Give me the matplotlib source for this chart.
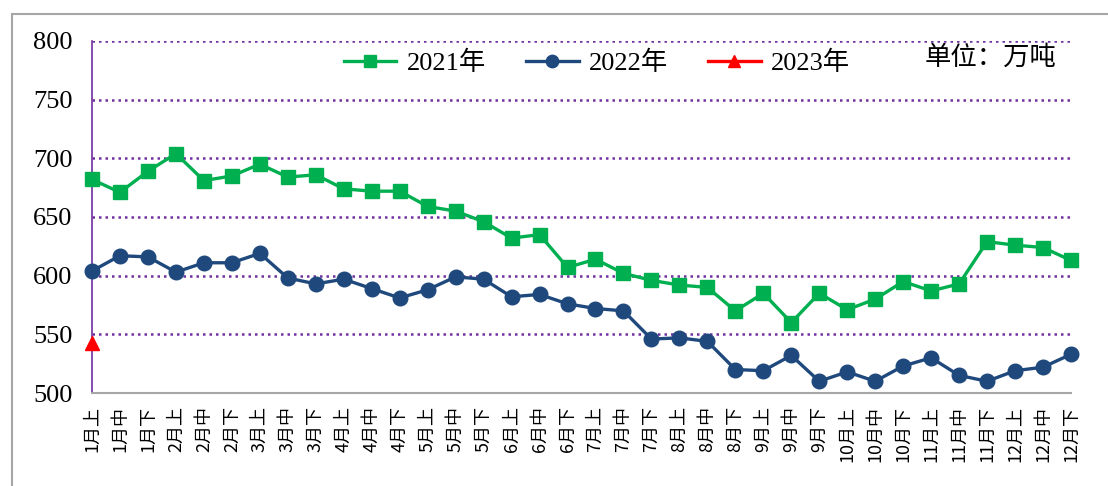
import matplotlib.pyplot as plt
from matplotlib.patches import Rectangle

# categories: 1月上 ... 12月下
parts = ["上", "中", "下"]
labels = [f"{m}月{p}" for m in range(1, 13) for p in parts]

y2021 = [682, 671, 689, 704, 681, 685, 695, 684, 686, 674, 672, 672,
         659, 655, 646, 632, 635, 607, 614, 602, 596, 592, 590, 570,
         585, 560, 585, 571, 580, 595, 587, 593, 629, 626, 624, 613]
y2022 = [604, 617, 616, 603, 611, 611, 619, 598, 593, 597, 589, 581,
         588, 599, 597, 582, 584, 576, 572, 570, 546, 547, 544, 520,
         519, 532, 510, 518, 510, 523, 530, 515, 510, 519, 522, 533]
y2023 = [543]

GREEN = "#00B050"
BLUE = "#1F497D"
RED = "#FF0000"
PURPLE = "#7030A0"

plt.rcParams['font.family'] = ['Liberation Serif', 'Noto Sans CJK SC', 'DejaVu Sans']

fig = plt.figure(figsize=(11.08, 4.86), dpi=100)
ax = fig.add_axes([92/1108, 1 - 393/486, (1071 - 92)/1108, (393 - 41)/486])

# outer chart border (cut off at right/bottom like the screenshot)
fig.patches.append(Rectangle((12/1108, -0.2), 1.2, 1 - 14/486 + 0.2,
                             transform=fig.transFigure, fill=False,
                             edgecolor="#A6A6A6", linewidth=1.5))

x = list(range(len(labels)))
ax.plot(x, y2021, color=GREEN, lw=2.4, marker="s", ms=10, label="2021年", clip_on=False, zorder=3)
ax.plot(x, y2022, color=BLUE, lw=2.4, marker="o", ms=10.5, label="2022年", clip_on=False, zorder=3)
ax.plot(x[:len(y2023)], y2023, color=RED, lw=2.4, marker="^", ms=10, label="2023年", clip_on=False, zorder=4)

ax.set_xlim(0, 35)
ax.set_ylim(500, 800)
ax.set_yticks(range(500, 801, 50))
for v in range(550, 801, 50):
    ax.axhline(v, color=PURPLE, lw=1.8, ls=(0, (1, 1.6)), zorder=1)

ax.set_xticks(x)
ax.set_xticklabels(labels, rotation=90, fontsize=13,
                   family=['Noto Sans CJK SC', 'DejaVu Sans'])
ax.tick_params(axis="both", length=0)
ax.tick_params(axis="y", labelsize=19, pad=14)
ax.tick_params(axis="x", pad=9)

for s in ["top", "right"]:
    ax.spines[s].set_visible(False)
ax.spines["left"].set_color(PURPLE)
ax.spines["left"].set_linewidth(1.2)
ax.spines["bottom"].set_color("#A6A6A6")
ax.spines["bottom"].set_linewidth(1.5)

leg = ax.legend(loc="center", bbox_to_anchor=(597/1108, 1 - 63/486), bbox_transform=fig.transFigure,
                ncol=3, frameon=False, markerscale=0.85,
                handlelength=2.0, columnspacing=1.5, handletextpad=0.4,
                prop={'family': ['Liberation Serif', 'Noto Sans CJK SC'], 'size': 19})

fig.text(925/1108, 1 - 57/486, "单位：万吨", fontsize=19, va="center", ha="left",
         family=['Noto Sans CJK SC', 'DejaVu Sans'])

fig.savefig("out.png", dpi=100)
